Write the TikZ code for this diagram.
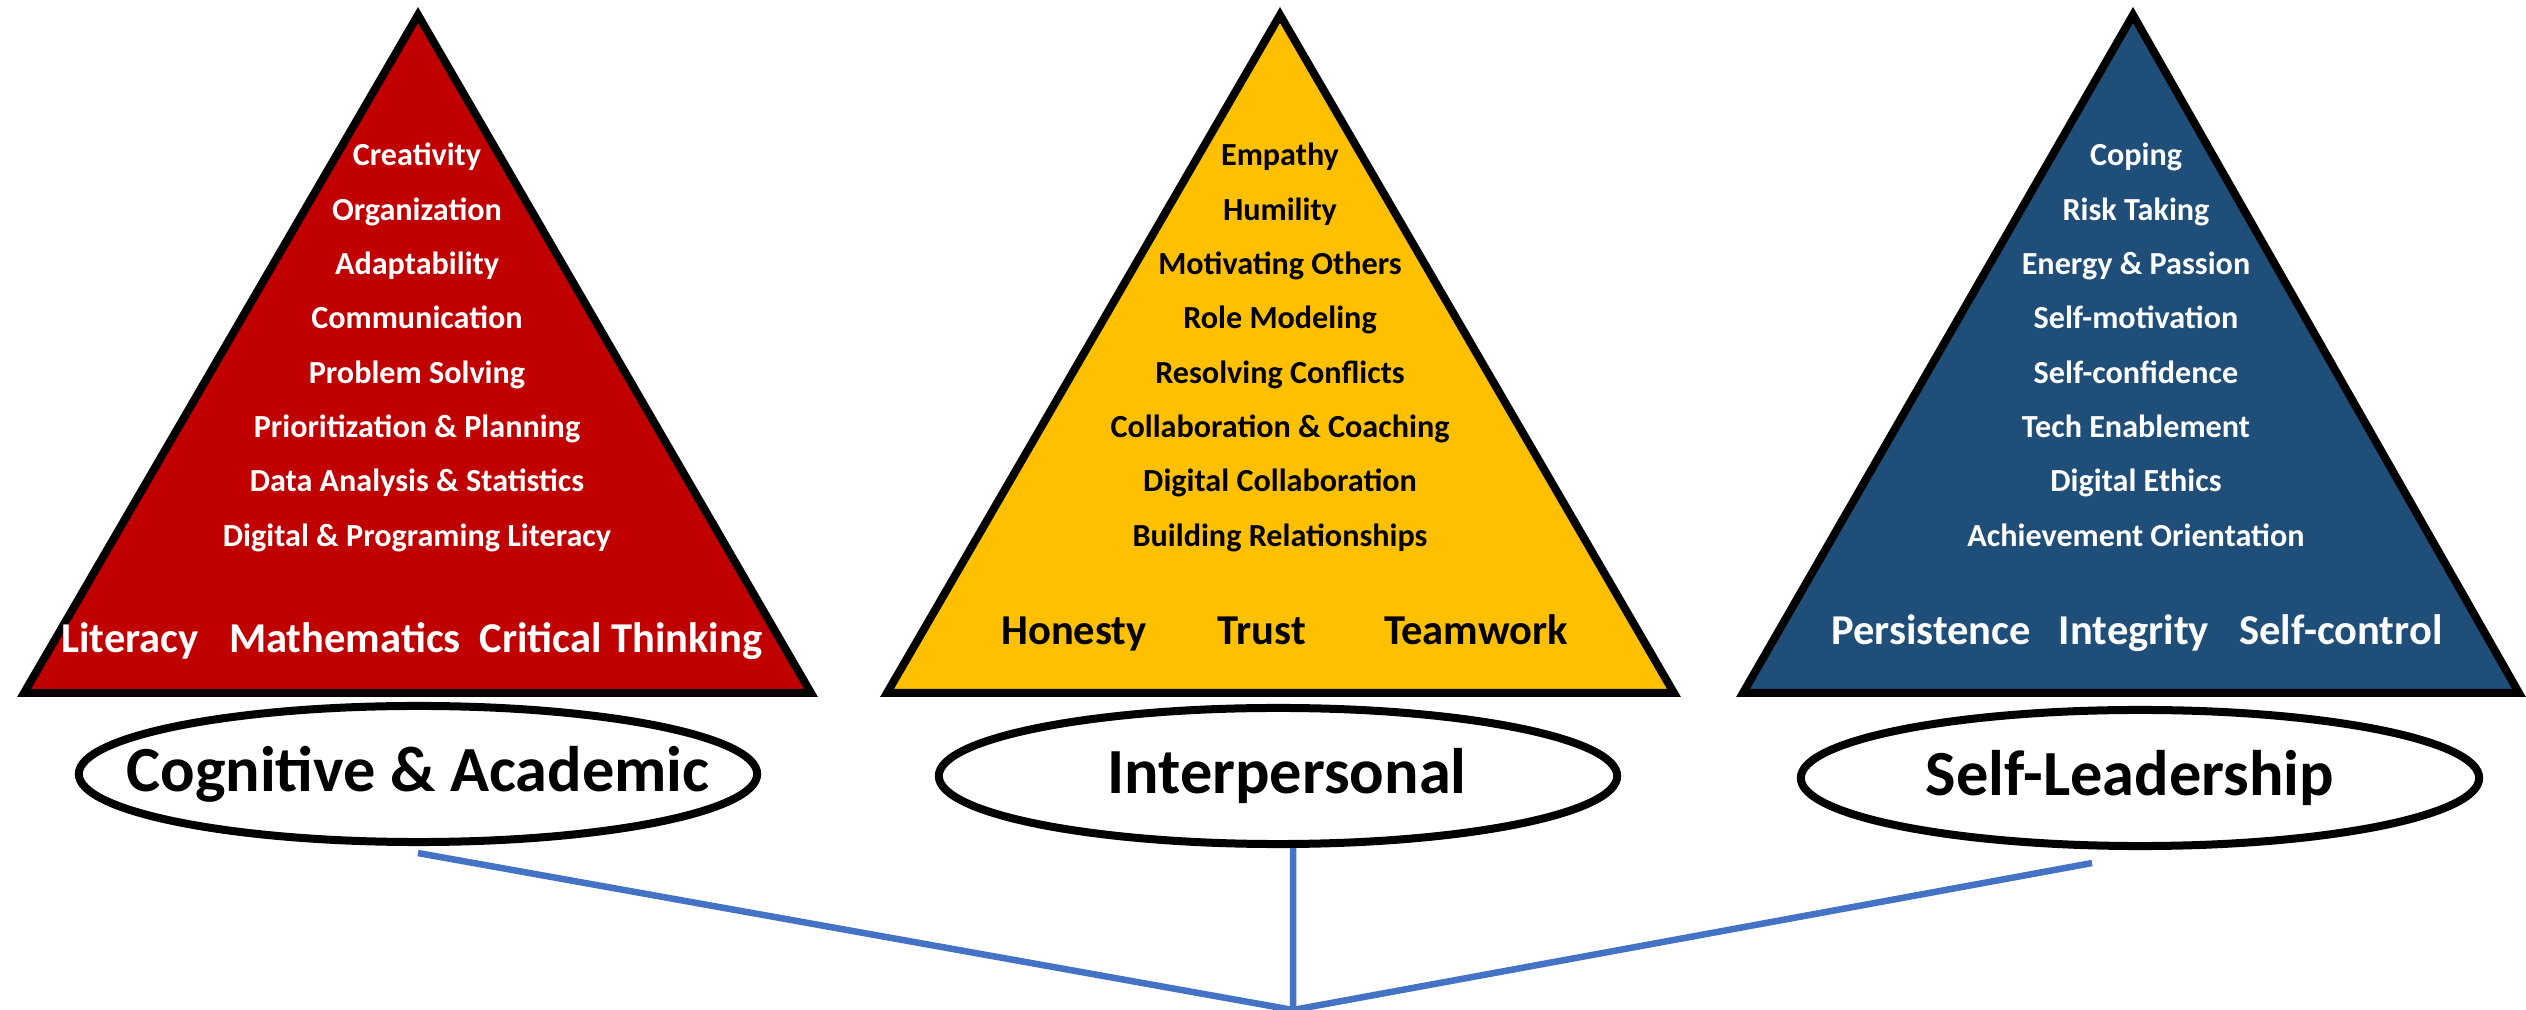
\documentclass[tikz,border=0pt]{standalone}
\usepackage{fontspec}
\setmainfont{Carlito}
\usetikzlibrary{shapes.geometric}

\definecolor{cogred}{HTML}{C00000}
\definecolor{intyellow}{HTML}{FFC000}
\definecolor{selfblue}{HTML}{1F4E79}
\definecolor{linkblue}{HTML}{4472C4}

\begin{document}
\begin{tikzpicture}[x=0.01cm,y=-0.01cm,
    pyramid/.style={draw=black,line width=0.08cm,line join=miter},
    item/.style={anchor=base,inner sep=0pt,font=\fontsize{9.15}{11}\selectfont\bfseries},
    pillar/.style={anchor=base,inner sep=0pt,font=\fontsize{12.1}{14}\selectfont\bfseries},
    skillarea/.style={ellipse,draw=black,line width=0.08cm,minimum width=6.78cm,minimum height=1.36cm,
      inner sep=0pt,font=\fontsize{18.3}{20}\selectfont\bfseries},
    link/.style={draw=linkblue,line width=0.065cm}]

          \useasboundingbox (0,0) rectangle (2526,1010); %全体の大きさ

          \coordinate (RA) at (418,15); %赤 頂点
          \coordinate (RL) at (24,693); %赤 左下
          \coordinate (RR) at (811,693); %赤 右下
          \coordinate (YA) at (1280,15); %黄 頂点
          \coordinate (YL) at (887,693); %黄 左下
          \coordinate (YR) at (1674,693); %黄 右下
          \coordinate (BA) at (2133,15); %青 頂点
          \coordinate (BL) at (1743,693); %青 左下
          \coordinate (BR) at (2519,693); %青 右下
          \filldraw[pyramid,fill=cogred] (RA)--(RL)--(RR)--cycle; %赤三角形
          \filldraw[pyramid,fill=intyellow] (YA)--(YL)--(YR)--cycle; %黄三角形
          \filldraw[pyramid,fill=selfblue] (BA)--(BL)--(BR)--cycle; %青三角形

          \foreach \t [count=\i from 0] in {Creativity,Organization,Adaptability,Communication,Problem Solving,
            Prioritization \& Planning,Data Analysis \& Statistics,Digital \& Programing Literacy}
            \node[item,text=white] (cog\i) at (417,{166+54.3*\i}) {\t}; %赤の項目
          \foreach \t [count=\i from 0] in {Empathy,Humility,Motivating Others,Role Modeling,Resolving Conflicts,
            Collaboration \& Coaching,Digital Collaboration,Building Relationships}
            \node[item,text=black] (int\i) at (1280,{166+54.3*\i}) {\t}; %黄の項目
          \foreach \t [count=\i from 0] in {Coping,Risk Taking,Energy \& Passion,Self-motivation,Self-confidence,
            Tech Enablement,Digital Ethics,Achievement Orientation}
            \node[item,text=white] (self\i) at (2136,{166+54.3*\i}) {\t}; %青の項目

          \node[pillar,text=white] (lit) at (130,653) {Literacy}; %赤 下段
          \node[pillar,text=white] (math) at (345,653) {Mathematics};
          \node[pillar,text=white] (crit) at (621,653) {Critical Thinking};
          \node[pillar,text=black] (hon) at (1074,645) {Honesty}; %黄 下段
          \node[pillar,text=black] (trust) at (1262,645) {Trust};
          \node[pillar,text=black] (team) at (1476,645) {Teamwork};
          \node[pillar,text=white] (pers) at (1931,645) {Persistence}; %青 下段
          \node[pillar,text=white] (integ) at (2134,645) {Integrity};
          \node[pillar,text=white] (ctrl) at (2341,645) {Self-control};

          \node[skillarea] (cog) at (418,774) {\makebox[0pt]{Cognitive \& Academic}}; %楕円
          \node[skillarea] (inter) at (1278,776) {\makebox[0pt]{\hspace{0.18cm}Interpersonal}};
          \node[skillarea] (self) at (2140,778) {\makebox[0pt]{Self-Leadership\hspace{0.2cm}}};

          \coordinate (hub) at (1293,1010); %下の交点
          \draw[link] ([yshift=-0.07cm]cog.south) -- (hub);
          \draw[link] ([xshift=0.15cm]inter.south) -- (hub);
          \draw[link] ([xshift=-0.48cm,yshift=-0.13cm]self.south) -- (hub);

        \end{tikzpicture}
\end{document}
